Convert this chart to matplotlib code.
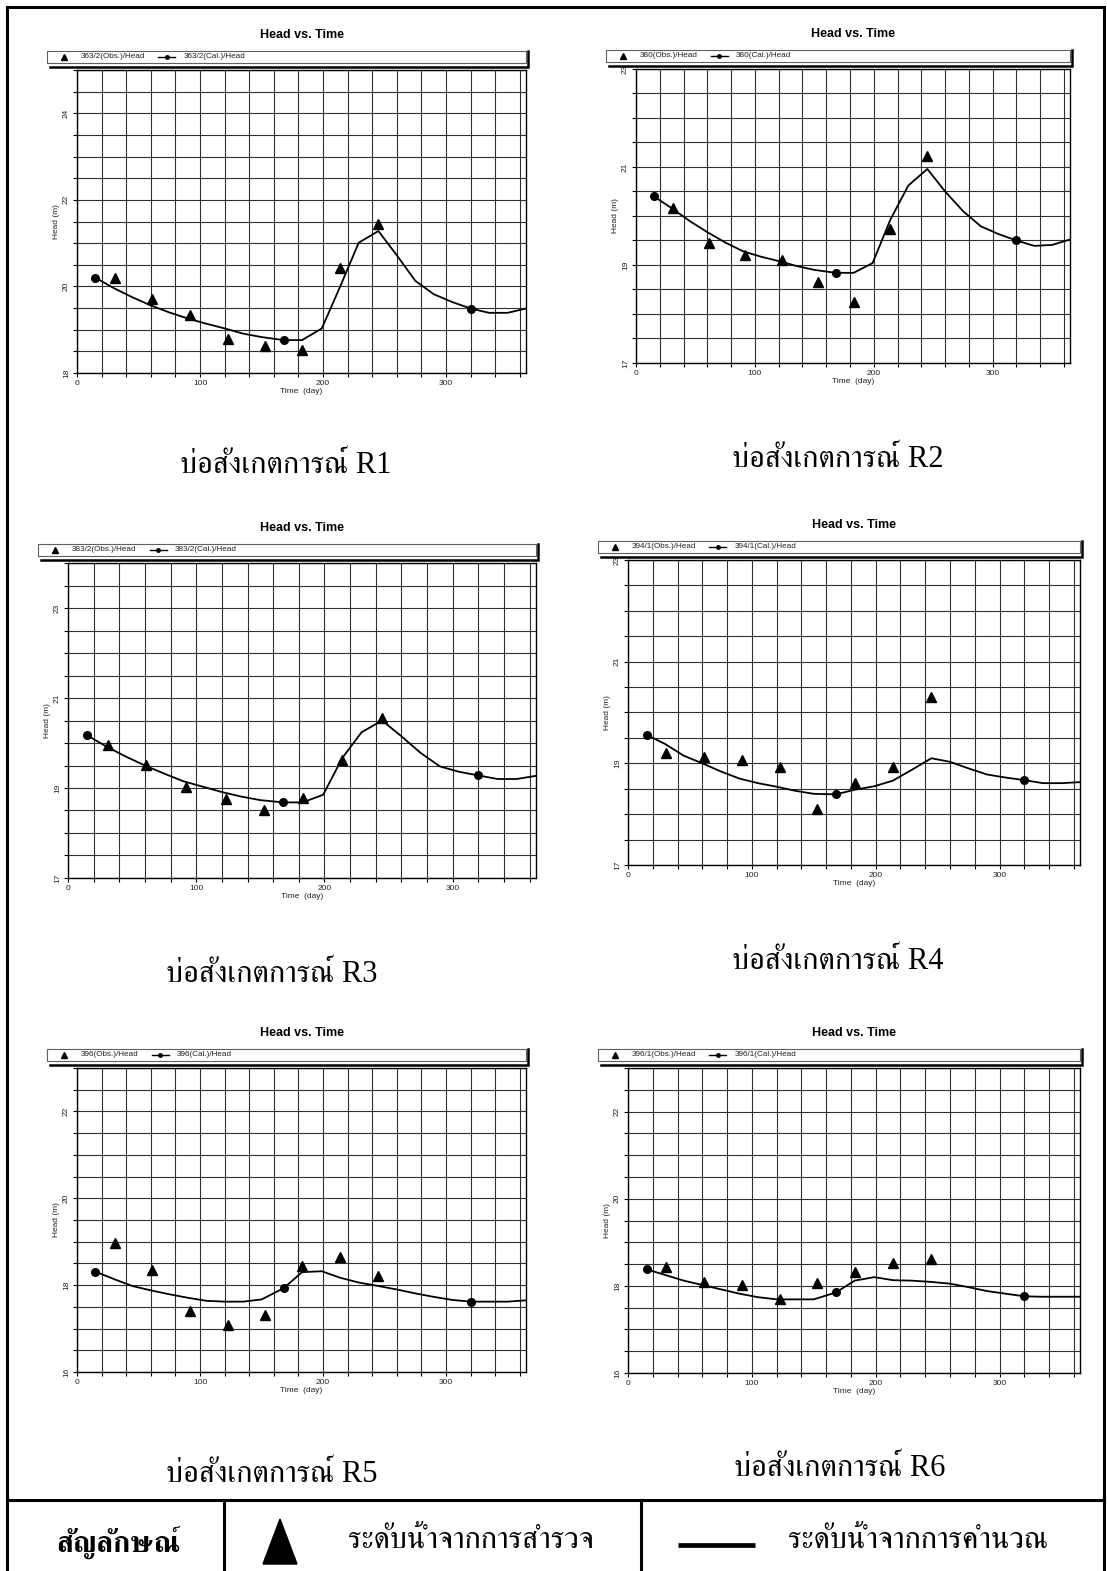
import numpy as np
import matplotlib
matplotlib.use("Agg")
import matplotlib.pyplot as plt
from matplotlib import font_manager
from matplotlib.ft2font import FT2Font
from matplotlib.patches import Rectangle, Polygon

W, H = 1107, 1571

# model time steps and survey dates (day)
cal_days = [15, 30, 45, 60, 75, 90, 105, 120, 135, 150, 168, 183, 199, 214, 229, 245, 260, 275, 290, 305, 320, 335, 350, 365]
obs_days = [31, 61, 92, 123, 153, 183, 214, 245]
marker_days = [15, 168, 320]

wells = ["363/2", "380", "383/2", "394/1", "396", "396/1"]
captions = ["บ่อสังเกตการณ์ R1", "บ่อสังเกตการณ์ R2", "บ่อสังเกตการณ์ R3",
            "บ่อสังเกตการณ์ R4", "บ่อสังเกตการณ์ R5", "บ่อสังเกตการณ์ R6"]

cal_r1 = [20.20, 19.96, 19.75, 19.56, 19.40, 19.26, 19.14, 19.03, 18.91, 18.83, 18.76, 18.76,
          19.03, 20.00, 21.01, 21.28, 20.72, 20.13, 19.82, 19.64, 19.49, 19.39, 19.39, 19.49]
cal_r2 = [20.40, 20.16, 19.90, 19.67, 19.46, 19.28, 19.17, 19.08, 18.98, 18.90, 18.84, 18.84,
          19.04, 19.93, 20.62, 20.96, 20.50, 20.10, 19.79, 19.63, 19.50, 19.39, 19.41, 19.52]
cal_r3 = [20.17, 19.92, 19.70, 19.50, 19.32, 19.15, 19.03, 18.91, 18.81, 18.73, 18.68, 18.68,
          18.85, 19.67, 20.24, 20.50, 20.15, 19.78, 19.48, 19.36, 19.28, 19.20, 19.20, 19.27]
cal_r4 = [19.56, 19.38, 19.15, 19.00, 18.84, 18.70, 18.61, 18.54, 18.46, 18.40, 18.39, 18.48,
          18.55, 18.66, 18.87, 19.10, 19.03, 18.90, 18.78, 18.72, 18.67, 18.61, 18.61, 18.63]
cal_r5 = [18.31, 18.14, 17.98, 17.88, 17.79, 17.71, 17.64, 17.62, 17.62, 17.67, 17.93, 18.30,
          18.32, 18.17, 18.06, 17.98, 17.90, 17.81, 17.73, 17.66, 17.62, 17.62, 17.62, 17.65]
cal_r6 = [18.38, 18.25, 18.12, 18.02, 17.92, 17.82, 17.74, 17.69, 17.69, 17.69, 17.85, 18.12,
          18.20, 18.13, 18.12, 18.09, 18.05, 17.97, 17.88, 17.82, 17.76, 17.75, 17.75, 17.75]

obs_r1 = [20.20, 19.70, 19.33, 18.78, 18.63, 18.53, 20.43, 21.44]
obs_r2 = [20.16, 19.45, 19.21, 19.11, 18.66, 18.24, 19.74, 21.23]
obs_r3 = [19.95, 19.51, 19.02, 18.76, 18.52, 18.77, 19.63, 20.55]
obs_r4 = [19.20, 19.12, 19.07, 18.93, 18.10, 18.62, 18.93, 20.30]
obs_r5 = [18.98, 18.35, 17.40, 17.09, 17.31, 18.44, 18.65, 18.22]
obs_r6 = [18.44, 18.09, 18.02, 17.70, 18.07, 18.32, 18.53, 18.61]

ylims = [(18, 25), (17, 23), (17, 24), (17, 23), (16, 23), (16, 23)]
yticks = [[18, 20, 22, 24], [17, 19, 21, 23], [17, 19, 21, 23],
          [17, 19, 21, 23], [16, 18, 20, 22], [16, 18, 20, 22]]

symbol_title = "สัญลักษณ์"
obs_label = "ระดับน้ำจากการสำรวจ"
cal_label = "ระดับน้ำจากการคำนวณ"

cals = [cal_r1, cal_r2, cal_r3, cal_r4, cal_r5, cal_r6]
obss = [obs_r1, obs_r2, obs_r3, obs_r4, obs_r5, obs_r6]

# plot boxes in pixels: left, top, right, bottom
boxes = [(77, 70, 526, 373), (636, 69, 1070, 363),
         (68, 563, 536, 878), (628, 560, 1080, 865),
         (77, 1068, 526, 1372), (628, 1068, 1080, 1373)]
cap_pos = [(286, 465), (838, 459), (272, 974), (838, 961), (272, 1474), (840, 1468)]


def find_thai_font():
    names = []
    for f in font_manager.fontManager.ttflist:
        try:
            if 0x0E1A in FT2Font(f.fname).get_charmap():
                names.append(f.name)
        except Exception:
            continue
    if not names:
        return None
    for n in names:
        if "Serif" in n or n in ("Norasi", "Kinnari", "Laksaman", "TH Sarabun New"):
            return n
    return names[0]


plt.rcParams["font.family"] = ["Liberation Sans", "DejaVu Sans"]
thai = find_thai_font()
thai_family = ["Liberation Serif", thai] if thai else ["Liberation Serif", "DejaVu Sans"]

fig = plt.figure(figsize=(W / 100, H / 100), dpi=100)
fig.patch.set_facecolor("white")

for i in range(6):
    l, t, r, b = boxes[i]
    ax = fig.add_axes([l / W, 1 - b / H, (r - l) / W, (b - t) / H])
    lo, hi = ylims[i]
    ax.plot(cal_days, cals[i], color="k", lw=1.3, zorder=3)
    ax.plot(marker_days, [cals[i][cal_days.index(d)] for d in marker_days], "o",
            color="k", ms=5.5, zorder=4)
    ax.plot(obs_days, obss[i], "^", color="k", ms=7, zorder=4)
    ax.set_xlim(0, 365)
    ax.set_ylim(lo, hi)
    ax.set_xticks([0, 100, 200, 300])
    ax.set_xticks(np.arange(0, 361, 20), minor=True)
    ax.set_yticks(yticks[i])
    ax.set_yticks(np.arange(lo, hi + 0.01, 0.5), minor=True)
    ax.grid(which="both", color="#303030", lw=0.8)
    ax.set_axisbelow(True)
    ax.tick_params(which="both", direction="out", length=3, width=0.8,
                   labelsize=6, pad=2, labelcolor="#222222")
    ax.tick_params(axis="y", labelrotation=90)
    for lab in ax.get_yticklabels():
        lab.set_va("center")
    ax.set_xlabel("Time  (day)", fontsize=6, labelpad=1, color="#222222")
    ax.set_ylabel("Head (m)", fontsize=6, labelpad=2, color="#222222")
    for s in ax.spines.values():
        s.set_linewidth(1.0)

# page layer: titles, legends, captions, frame and symbol table
ov = fig.add_axes([0, 0, 1, 1])
ov.set_xlim(0, W)
ov.set_ylim(H, 0)
ov.axis("off")
ov.set_zorder(10)
ov.patch.set_alpha(0)
renderer = fig.canvas.get_renderer()

for i in range(6):
    l, t, r, b = boxes[i]
    ov.text((l + r) / 2, t - 35, "Head vs. Time", fontsize=9, fontweight="bold",
            ha="center", va="center")
    ll, lt, lr, lb = l - 30, t - 19.5, r, t - 7.5
    ov.add_patch(Rectangle((ll, lt), lr - ll, lb - lt, facecolor="white",
                           edgecolor="#606060", lw=0.8))
    ov.plot([ll + 3, lr + 1.5, lr + 1.5], [lb + 4.5, lb + 4.5, lt], color="k",
            lw=1.8, solid_joinstyle="miter")
    ym = (lt + lb) / 2
    ov.plot([ll + 17], [ym], "^", color="k", ms=5)
    t1 = ov.text(ll + 34, ym, wells[i] + "(Obs.)/Head", fontsize=5.9,
                 ha="left", va="center", color="#222222")
    x1 = t1.get_window_extent(renderer).x1
    ov.plot([x1 + 13, x1 + 30], [ym, ym], color="k", lw=1.0)
    ov.plot([x1 + 21.5], [ym], "o", color="k", ms=2.5)
    ov.text(x1 + 38, ym, wells[i] + "(Cal.)/Head", fontsize=5.9,
            ha="left", va="center", color="#222222")
    cx, cy = cap_pos[i]
    ov.text(cx, cy, captions[i], family=thai_family, fontsize=22,
            ha="center", va="center")

# outer frame and symbol row
fw = 2.2
ov.plot([6.5, 1104, 1104], [6.5, 6.5, H], color="k", lw=fw, solid_joinstyle="miter")
ov.plot([6.5, 6.5], [6.5, H], color="k", lw=fw)
ov.plot([6.5, 1104], [1500, 1500], color="k", lw=fw)
ov.plot([224, 224], [1500, H], color="k", lw=fw)
ov.plot([641, 641], [1500, H], color="k", lw=fw)

ov.text(118, 1542, symbol_title, family=thai_family, fontsize=21,
        fontweight="bold", ha="center", va="center")
ov.add_patch(Polygon([(263, 1564), (280, 1519), (297, 1564)], closed=True,
                     facecolor="k", edgecolor="k"))
ov.text(471, 1540, obs_label, family=thai_family, fontsize=22,
        ha="center", va="center")
ov.plot([678, 755], [1545, 1545], color="k", lw=3.4, solid_capstyle="butt")
ov.text(918, 1540, cal_label, family=thai_family, fontsize=22,
        ha="center", va="center")

fig.savefig("out.png", dpi=100)
